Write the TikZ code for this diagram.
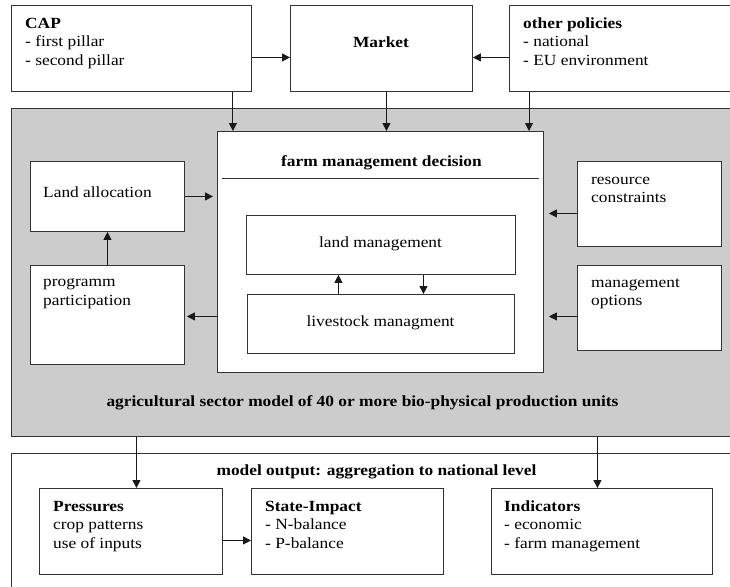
\documentclass[tikz,border=0pt]{standalone}
\usepackage{fontspec}
\setmainfont{Liberation Serif}[FakeStretch=1.12]
\usetikzlibrary{arrows.meta,calc}
\definecolor{panelgray}{HTML}{CCCCCC}
\definecolor{edge}{HTML}{333333}
\begin{document}
\begin{tikzpicture}[x=1pt,y=-1pt,
  box/.style={draw=edge, line width=0.9pt, fill=white, inner sep=0pt, anchor=north west},
  txt/.style={inner sep=0pt, anchor=north west, align=left, font=\fontsize{15.5}{18.5}\selectfont},
  ctxt/.style={inner sep=0pt, anchor=base, font=\fontsize{15.5}{18.5}\selectfont},
  arr/.style={draw=black!90, line width=0.9pt, -{Triangle[length=8pt,width=8pt]}},
]
\useasboundingbox (0,0) rectangle (730,586);
\clip (0,0) rectangle (730,586);
\fill[white] (0,0) rectangle (730,586);

% top row
\node[box, minimum width=240pt, minimum height=86pt] (cap) at (11,5) {};
\node[box, minimum width=182pt, minimum height=86pt] (market) at (290,5) {};
\node[box, minimum width=260pt, minimum height=86pt] (other) at (509,5) {};
\node[txt] (captxt) at (25,15) {\strut\textbf{CAP}\\- first pillar\\- second pillar};
\node[ctxt] (markettxt) at (381,47.5) {\textbf{Market}};
\node[txt] (othertxt) at (523,15) {\strut\textbf{other policies}\\- national\\- EU environment};

% grey model panel
\node[box, fill=panelgray, minimum width=760pt, minimum height=328pt] (gray) at (11,108) {};
\node[box, minimum width=326pt, minimum height=241pt] (farm) at (217,131) {};
\node[ctxt] (farmtxt) at (381.5,166) {\textbf{farm management decision}};
\draw[edge, line width=0.9pt] (222,178) -- (539,178);
\node[box, minimum width=269pt, minimum height=59pt] (landm) at (246,215) {};
\node[box, minimum width=267pt, minimum height=59pt] (live) at (247,294) {};
\node[ctxt] (landmtxt) at (380.5,247) {land management};
\node[ctxt] (livetxt) at (380.5,326) {livestock managment};

\node[box, minimum width=154pt, minimum height=70pt] (landalloc) at (30,161) {};
\node[box, minimum width=154pt, minimum height=99pt] (prog) at (30,265) {};
\node[txt] (landalloctxt) at (43,184.7) {\strut Land allocation};
\node[txt] (progtxt) at (43,273.7) {\strut programm\\participation};

\node[box, minimum width=144pt, minimum height=85pt] (res) at (577,161) {};
\node[box, minimum width=144pt, minimum height=85pt] (opt) at (577,265) {};
\node[txt] (restxt) at (591,171.3) {\strut resource\\constraints};
\node[txt] (opttxt) at (591,274.3) {\strut management\\options};

\node[ctxt] (agrtxt) at (362.5,406.7) {\textbf{agricultural sector model of 40 or more bio-physical production units}};

% output panel
\node[box, minimum width=760pt, minimum height=200pt] (out) at (11,453) {};
\node[ctxt] (outtxt) at (376.5,475) {\textbf{model output: aggregation to national level}};
\node[box, minimum width=183pt, minimum height=86pt] (press) at (39,488) {};
\node[box, minimum width=192pt, minimum height=86pt] (state) at (251,488) {};
\node[box, minimum width=221pt, minimum height=86pt] (ind) at (491,488) {};
\node[txt] (presstxt) at (53,498) {\strut\textbf{Pressures}\\crop patterns\\use of inputs};
\node[txt] (statetxt) at (265,498) {\strut\textbf{State-Impact}\\- N-balance\\- P-balance};
\node[txt] (indtxt) at (504,498) {\strut\textbf{Indicators}\\- economic\\- farm management};

% connectors
\draw[arr] ([yshift=-9pt]cap.east) -- ([yshift=-9pt]market.west);
\draw[arr] ([yshift=-9pt]other.west) -- ([yshift=-9pt]market.east);
\draw[arr] ([xshift=-19pt]cap.south east) -- ([xshift=-19pt]cap.south east |- farm.north);
\draw[arr] ([xshift=5pt]market.south) -- ([xshift=5pt]market.south |- farm.north);
\draw[arr] ([xshift=20pt]other.south west) -- ([xshift=20pt]other.south west |- farm.north);

\draw[arr, shorten >=4pt] (landalloc.east) -- (landalloc.east -| farm.west);
\draw[arr] (prog.north) -- (landalloc.south);
\draw[arr, shorten >=2pt] ([yshift=-1.5pt]prog.east -| farm.west) -- ([yshift=-1.5pt]prog.east);
\draw[arr, shorten >=5pt] ([yshift=-9.5pt]res.west) -- ([yshift=-9.5pt]res.west -| farm.east);
\draw[arr, shorten >=5pt] ([yshift=-8.5pt]opt.west) -- ([yshift=-8.5pt]opt.west -| farm.east);

\draw[arr] ([xshift=-42.5pt]live.north) -- ([xshift=-42.5pt]live.north |- landm.south);
\draw[arr] ([xshift=42.5pt]landm.south) -- ([xshift=42.5pt]landm.south |- live.north);

\draw[arr] ([xshift=5.5pt]press.north |- gray.south) -- ([xshift=5.5pt]press.north);
\draw[arr] ([xshift=-4.5pt]ind.north |- gray.south) -- ([xshift=-4.5pt]ind.north);
\draw[arr] ([yshift=-9pt]press.east) -- ([yshift=-9pt]state.west);
\end{tikzpicture}
\end{document}
